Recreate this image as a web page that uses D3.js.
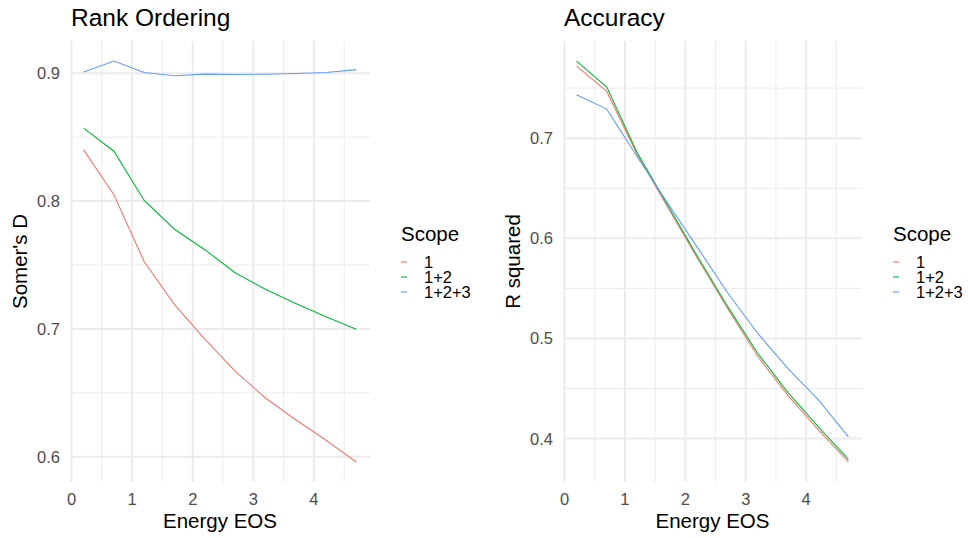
<!DOCTYPE html>
<html>
<head>
<meta charset="utf-8">
<script src="https://cdn.jsdelivr.net/npm/d3@7"></script>
<style>
  body { margin: 0; background: #fff; }
  svg { font-family: "Liberation Sans", Arial, sans-serif; }
</style>
</head>
<body>
<div id="chart"></div>
<script>
// Data
const energyEOS = [0.2, 0.7, 1.2, 1.7, 2.2, 2.7, 3.2, 3.7, 4.2, 4.7];
const scopes = ["1", "1+2", "1+2+3"];
const scopeColors = ["#F8766D", "#00BA38", "#619CFF"];

const somersScope1   = [0.840, 0.805, 0.7525, 0.719, 0.692, 0.667, 0.646, 0.629, 0.613, 0.596];
const somersScope12  = [0.857, 0.839, 0.8005, 0.778, 0.762, 0.744, 0.731, 0.720, 0.7096, 0.6998];
const somersScope123 = [0.901, 0.9095, 0.9005, 0.898, 0.8993, 0.899, 0.8992, 0.8998, 0.9005, 0.9028];

const rsqScope1   = [0.772, 0.7467, 0.684, 0.632, 0.580, 0.530, 0.482, 0.443, 0.409, 0.3767];
const rsqScope12  = [0.777, 0.751, 0.686, 0.634, 0.582, 0.532, 0.485, 0.446, 0.412, 0.3793];
const rsqScope123 = [0.7433, 0.729, 0.6817, 0.636, 0.591, 0.5456, 0.505, 0.470, 0.439, 0.4017];

const xTicks = [0, 1, 2, 3, 4];
const xMinor = [0.5, 1.5, 2.5, 3.5, 4.5];

const width = 968;
const height = 538;

const svg = d3.select("#chart")
    .append("svg")
    .attr("width", width)
    .attr("height", height);

// ggplot-like 5% expansion
function expanded(values) {
    const [lo, hi] = d3.extent(values);
    const pad = (hi - lo) * 0.05;
    return [lo - pad, hi + pad];
}

function drawPanel(opts) {
    const x = d3.scaleLinear().domain(expanded(energyEOS)).range([opts.left, opts.right]);
    const y = d3.scaleLinear().domain(expanded(opts.series.flat())).range([482, 41]);
    const g = svg.append("g");

    // minor grid
    g.selectAll(".vminor").data(xMinor).join("line")
        .attr("x1", d => x(d)).attr("x2", d => x(d))
        .attr("y1", 41).attr("y2", 482)
        .attr("stroke", "#ebebeb").attr("stroke-width", 1);
    g.selectAll(".hminor").data(opts.yMinor).join("line")
        .attr("x1", opts.left).attr("x2", opts.right)
        .attr("y1", d => y(d)).attr("y2", d => y(d))
        .attr("stroke", "#ebebeb").attr("stroke-width", 1);

    // major grid
    g.selectAll(".vmajor").data(xTicks).join("line")
        .attr("x1", d => x(d)).attr("x2", d => x(d))
        .attr("y1", 41).attr("y2", 482)
        .attr("stroke", "#ebebeb").attr("stroke-width", 2);
    g.selectAll(".hmajor").data(opts.yTicks).join("line")
        .attr("x1", opts.left).attr("x2", opts.right)
        .attr("y1", d => y(d)).attr("y2", d => y(d))
        .attr("stroke", "#ebebeb").attr("stroke-width", 2);

    // tick labels
    g.selectAll(".xlab").data(xTicks).join("text")
        .attr("x", d => x(d)).attr("y", 505)
        .attr("text-anchor", "middle")
        .attr("font-size", 16.5).attr("fill", "#4d4d4d")
        .text(d => d);
    g.selectAll(".ylab").data(opts.yTicks).join("text")
        .attr("x", opts.left - 10).attr("y", d => y(d))
        .attr("dy", "0.36em")
        .attr("text-anchor", "end")
        .attr("font-size", 16.5).attr("fill", "#4d4d4d")
        .text(d => d3.format(".1f")(d));

    // lines
    const line = d3.line()
        .x((d, i) => x(energyEOS[i]))
        .y(d => y(d));
    g.selectAll(".series").data(opts.series).join("path")
        .attr("d", line)
        .attr("fill", "none")
        .attr("stroke", (d, i) => scopeColors[i])
        .attr("stroke-width", 1.1);

    // titles
    g.append("text")
        .attr("x", opts.left + 1).attr("y", 26)
        .attr("font-size", 24.5).attr("fill", "#000")
        .text(opts.title);
    g.append("text")
        .attr("x", (opts.left + opts.right) / 2).attr("y", 528)
        .attr("text-anchor", "middle")
        .attr("font-size", 20.5).attr("fill", "#000")
        .text("Energy EOS");
    g.append("text")
        .attr("transform", `translate(${opts.yTitleX},261.5) rotate(-90)`)
        .attr("text-anchor", "middle")
        .attr("font-size", 20.5).attr("fill", "#000")
        .text(opts.yTitle);

    // legend
    const lg = g.append("g").attr("transform", `translate(${opts.legendX},0)`);
    lg.append("text")
        .attr("x", 0).attr("y", 240.5)
        .attr("font-size", 20.5).attr("fill", "#000")
        .text("Scope");
    const items = lg.selectAll(".item").data(scopes).join("g")
        .attr("transform", (d, i) => `translate(0,${262 + i * 15})`);
    items.append("line")
        .attr("x1", 0).attr("x2", 6)
        .attr("stroke", (d, i) => scopeColors[i])
        .attr("stroke-width", 1.1);
    items.append("text")
        .attr("x", 23).attr("dy", "0.36em")
        .attr("font-size", 16.5).attr("fill", "#000")
        .text(d => d);
}

drawPanel({
    left: 70, right: 370,
    series: [somersScope1, somersScope12, somersScope123],
    yTicks: [0.6, 0.7, 0.8, 0.9],
    yMinor: [0.65, 0.75, 0.85],
    title: "Rank Ordering",
    yTitle: "Somer's D",
    yTitleX: 27,
    legendX: 401
});

drawPanel({
    left: 563, right: 862,
    series: [rsqScope1, rsqScope12, rsqScope123],
    yTicks: [0.4, 0.5, 0.6, 0.7],
    yMinor: [0.45, 0.55, 0.65, 0.75],
    title: "Accuracy",
    yTitle: "R squared",
    yTitleX: 520,
    legendX: 893
});
</script>
</body>
</html>
